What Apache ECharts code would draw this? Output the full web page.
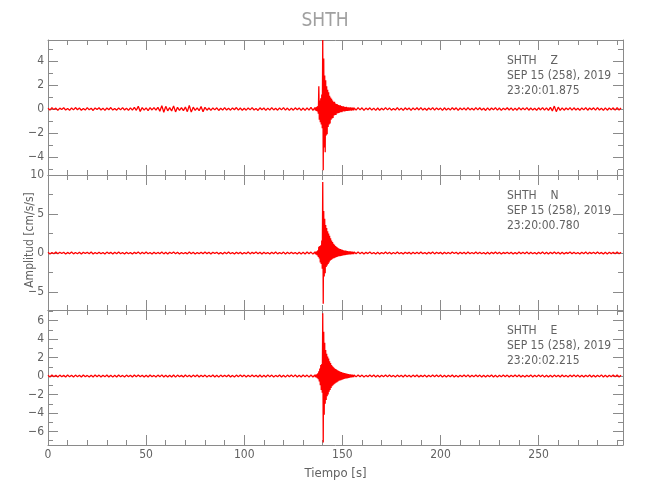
<!DOCTYPE html>
<html>
<head>
<meta charset="utf-8">
<script src="https://cdn.jsdelivr.net/npm/echarts@6/dist/echarts.min.js"></script>
<style>html,body{margin:0;padding:0;background:#fff}#c{width:650px;height:500px}</style>
</head>
<body>
<div id="c"></div>
<script>
// ---- Data ----
const title = 'SHTH';
const xName = 'Tiempo [s]';
const yName = 'Amplitud [cm/s/s]';
const xTicksMajor = [0, 50, 100, 150, 200, 250];
const xTicksMinor = [10,20,30,40,60,70,80,90,110,120,130,140,160,170,180,190,210,220,230,240,260,270,280,290];
const xRange = [0, 293];

// sample segments: pre 0..136 every 1 s, event 136.25..156 every 0.25 s, post 157..292 every 1 s
const preStart = 0, preStep = 1;
const evStart = 136.25, evStep = 0.25;
const postStart = 157, postStep = 1;

const zPre = [
 0.06,-0.09,0.11,-0.05,0.08,-0.12,0.07,-0.04,0.10,-0.08,
 0.05,-0.11,0.09,-0.07,0.12,-0.06,0.08,-0.10,0.04,-0.09,
 0.11,-0.07,0.06,-0.12,0.09,-0.05,0.10,-0.08,0.07,-0.11,
 0.08,-0.06,0.12,-0.09,0.05,-0.10,0.09,-0.07,0.11,-0.08,
 0.07,-0.12,0.10,-0.09,0.13,-0.11,0.22,-0.20,0.12,-0.10,
 0.09,-0.13,0.11,-0.08,0.12,-0.10,0.14,-0.18,0.28,-0.27,
 0.22,-0.15,0.12,-0.17,0.26,-0.24,0.14,-0.11,0.12,-0.14,
 0.16,-0.22,0.30,-0.26,0.15,-0.12,0.10,-0.14,0.20,-0.22,
 0.14,-0.10,0.08,-0.11,0.09,-0.07,0.10,-0.12,0.06,-0.09,
 0.11,-0.08,0.07,-0.10,0.09,-0.06,0.12,-0.09,0.08,-0.11,
 0.06,-0.10,0.09,-0.07,0.11,-0.08,0.05,-0.12,0.10,-0.06,
 0.08,-0.11,0.07,-0.09,0.12,-0.08,0.06,-0.10,0.09,-0.07,
 0.11,-0.09,0.08,-0.12,0.07,-0.10,0.10,-0.06,0.09,-0.11,
 0.08,-0.12,0.10,-0.09,0.13,-0.11,0.12];
const zEvent = [
 -0.12,0.14,-0.15,0.18,-0.20,0.25,-0.40,1.90,
 -0.90,0.70,-1.10,0.90,-1.30,1.20,-1.60,5.75,
 -5.10,4.20,-3.20,2.80,-3.60,2.40,-2.20,1.90,
 -2.10,1.60,-1.50,1.40,-1.30,1.10,-1.20,0.95,
 -0.90,0.85,-0.80,0.70,-0.75,0.60,-0.55,0.60,
 -0.50,0.45,-0.50,0.42,-0.38,0.40,-0.35,0.32,
 -0.34,0.30,-0.28,0.30,-0.25,0.24,-0.26,0.22,
 -0.20,0.22,-0.19,0.18,-0.20,0.17,-0.16,0.18,
 -0.15,0.14,-0.16,0.13,-0.14,0.12,-0.13,0.14,
 -0.12,0.11,-0.13,0.12,-0.10,0.12,-0.11,0.10];
const zPost = [
 -0.09,0.11,-0.07,0.10,-0.12,0.08,-0.06,0.10,-0.09,0.07,
 -0.11,0.08,-0.10,0.06,-0.08,0.12,-0.07,0.09,-0.10,0.05,
 -0.08,0.11,-0.09,0.07,-0.12,0.10,-0.06,0.08,-0.11,0.09,
 -0.07,0.10,-0.08,0.12,-0.09,0.06,-0.10,0.08,-0.07,0.11,
 -0.10,0.09,-0.06,0.08,-0.12,0.10,-0.08,0.07,-0.09,0.11,
 -0.06,0.10,-0.11,0.08,-0.07,0.09,-0.10,0.12,-0.08,0.06,
 -0.09,0.11,-0.07,0.10,-0.08,0.06,-0.12,0.09,-0.10,0.08,
 -0.07,0.12,-0.09,0.08,-0.11,0.07,-0.06,0.10,-0.08,0.09,
 -0.11,0.07,-0.10,0.12,-0.08,0.09,-0.07,0.11,-0.10,0.08,
 -0.09,0.06,-0.11,0.10,-0.08,0.12,-0.10,0.09,-0.12,0.14,
 -0.16,0.24,-0.22,0.15,-0.12,0.09,-0.10,0.08,-0.07,0.11,
 -0.09,0.10,-0.08,0.06,-0.11,0.09,-0.07,0.12,-0.10,0.08,
 -0.06,0.10,-0.09,0.11,-0.08,0.07,-0.12,0.09,-0.10,0.08,
 -0.07,0.10,-0.09,0.11,-0.08,0.09];

const nPre = [
 0.09,-0.12,0.07,-0.10,0.13,-0.08,0.11,-0.06,0.10,-0.12,
 0.08,-0.09,0.12,-0.11,0.06,-0.10,0.09,-0.13,0.11,-0.07,
 0.10,-0.08,0.13,-0.12,0.07,-0.09,0.11,-0.10,0.08,-0.13,
 0.12,-0.07,0.09,-0.11,0.10,-0.08,0.13,-0.09,0.07,-0.12,
 0.11,-0.10,0.08,-0.13,0.09,-0.07,0.12,-0.11,0.10,-0.08,
 0.13,-0.09,0.07,-0.12,0.11,-0.10,0.08,-0.09,0.12,-0.11,
 0.09,-0.13,0.10,-0.07,0.12,-0.08,0.11,-0.12,0.07,-0.10,
 0.08,-0.11,0.13,-0.09,0.10,-0.12,0.07,-0.08,0.11,-0.10,
 0.12,-0.08,0.09,-0.13,0.11,-0.07,0.10,-0.11,0.08,-0.12,
 0.10,-0.09,0.12,-0.10,0.07,-0.13,0.09,-0.08,0.11,-0.12,
 0.08,-0.10,0.13,-0.11,0.09,-0.07,0.12,-0.09,0.10,-0.13,
 0.11,-0.08,0.07,-0.12,0.10,-0.09,0.13,-0.11,0.08,-0.10,
 0.12,-0.13,0.09,-0.10,0.11,-0.08,0.07,-0.12,0.10,-0.11,
 0.09,-0.12,0.13,-0.10,0.12,-0.14,0.15];
const nEvent = [
 -0.15,0.18,-0.20,0.22,-0.30,0.35,-0.50,0.80,
 -0.70,0.90,-1.20,1.00,-1.40,1.60,-2.00,9.10,
 -6.50,5.40,-3.00,4.40,-2.60,3.60,-1.80,3.20,
 -1.60,2.80,-1.40,2.50,-1.20,2.20,-1.00,1.90,
 -0.90,1.60,-0.80,1.40,-0.70,1.20,-0.65,1.05,
 -0.60,0.90,-0.55,0.80,-0.50,0.70,-0.45,0.60,
 -0.42,0.55,-0.40,0.50,-0.36,0.45,-0.33,0.40,
 -0.30,0.36,-0.28,0.33,-0.26,0.30,-0.24,0.27,
 -0.22,0.25,-0.20,0.23,-0.19,0.21,-0.18,0.20,
 -0.16,0.18,-0.15,0.17,-0.14,0.16,-0.13,0.14];
const nPost = [
 -0.10,0.12,-0.08,0.11,-0.13,0.09,-0.07,0.12,-0.10,0.08,
 -0.12,0.09,-0.11,0.07,-0.09,0.13,-0.08,0.10,-0.11,0.06,
 -0.09,0.12,-0.10,0.08,-0.13,0.11,-0.07,0.09,-0.12,0.10,
 -0.08,0.11,-0.09,0.13,-0.10,0.07,-0.11,0.09,-0.08,0.12,
 -0.11,0.10,-0.07,0.09,-0.13,0.11,-0.09,0.08,-0.10,0.12,
 -0.07,0.11,-0.12,0.09,-0.08,0.10,-0.11,0.13,-0.09,0.07,
 -0.10,0.12,-0.08,0.11,-0.09,0.07,-0.13,0.10,-0.11,0.09,
 -0.08,0.13,-0.10,0.09,-0.12,0.08,-0.07,0.11,-0.09,0.10,
 -0.12,0.08,-0.11,0.13,-0.09,0.10,-0.08,0.12,-0.11,0.09,
 -0.10,0.07,-0.12,0.11,-0.09,0.13,-0.11,0.10,-0.12,0.09,
 -0.08,0.12,-0.10,0.09,-0.13,0.10,-0.11,0.08,-0.07,0.12,
 -0.10,0.11,-0.09,0.07,-0.12,0.10,-0.08,0.13,-0.11,0.09,
 -0.07,0.11,-0.10,0.12,-0.09,0.08,-0.13,0.10,-0.11,0.09,
 -0.08,0.11,-0.10,0.12,-0.09,0.10];

const ePre = [
 0.08,-0.10,0.11,-0.07,0.09,-0.11,0.10,-0.08,0.07,-0.10,
 0.11,-0.09,0.08,-0.11,0.10,-0.07,0.09,-0.10,0.11,-0.08,
 0.07,-0.11,0.09,-0.10,0.12,-0.08,0.10,-0.11,0.08,-0.09,
 0.11,-0.10,0.09,-0.12,0.08,-0.10,0.11,-0.09,0.07,-0.11,
 0.10,-0.08,0.09,-0.11,0.11,-0.07,0.10,-0.09,0.08,-0.11,
 0.09,-0.10,0.11,-0.08,0.07,-0.11,0.10,-0.09,0.12,-0.10,
 0.08,-0.11,0.09,-0.10,0.11,-0.12,0.10,-0.08,0.07,-0.10,
 0.11,-0.09,0.08,-0.11,0.10,-0.07,0.12,-0.10,0.09,-0.08,
 0.10,-0.11,0.07,-0.09,0.11,-0.10,0.08,-0.12,0.10,-0.09,
 0.09,-0.08,0.11,-0.10,0.07,-0.11,0.10,-0.09,0.12,-0.08,
 0.10,-0.11,0.08,-0.09,0.11,-0.07,0.09,-0.10,0.11,-0.12,
 0.08,-0.10,0.12,-0.09,0.10,-0.11,0.07,-0.08,0.11,-0.10,
 0.09,-0.12,0.10,-0.08,0.11,-0.09,0.12,-0.11,0.08,-0.10,
 0.11,-0.09,0.10,-0.12,0.11,-0.10,0.12];
const eEvent = [
 -0.12,0.14,-0.16,0.18,-0.22,0.30,-0.35,0.50,
 -0.60,0.80,-1.00,1.20,-1.50,1.30,-1.80,6.80,
 -7.20,4.80,-4.20,3.60,-3.00,2.80,-2.60,2.40,
 -2.20,2.10,-2.00,1.90,-1.70,1.60,-1.50,1.40,
 -1.30,1.20,-1.10,1.05,-1.00,0.95,-0.90,0.85,
 -0.80,0.75,-0.72,0.70,-0.66,0.62,-0.60,0.56,
 -0.52,0.50,-0.48,0.45,-0.44,0.42,-0.40,0.38,
 -0.36,0.34,-0.33,0.32,-0.30,0.28,-0.27,0.26,
 -0.25,0.24,-0.22,0.21,-0.20,0.19,-0.18,0.17,
 -0.16,0.15,-0.15,0.14,-0.13,0.13,-0.12,0.12];
const ePost = [
 -0.09,0.11,-0.08,0.10,-0.11,0.07,-0.09,0.10,-0.08,0.11,
 -0.10,0.08,-0.11,0.09,-0.07,0.10,-0.09,0.11,-0.08,0.07,
 -0.11,0.10,-0.08,0.09,-0.10,0.12,-0.07,0.09,-0.11,0.10,
 -0.08,0.11,-0.10,0.07,-0.09,0.10,-0.11,0.08,-0.09,0.11,
 -0.07,0.10,-0.09,0.11,-0.12,0.08,-0.10,0.09,-0.08,0.11,
 -0.10,0.07,-0.11,0.09,-0.08,0.10,-0.09,0.12,-0.10,0.08,
 -0.09,0.11,-0.07,0.10,-0.11,0.08,-0.10,0.09,-0.08,0.11,
 -0.10,0.09,-0.12,0.08,-0.09,0.11,-0.07,0.10,-0.11,0.09,
 -0.08,0.10,-0.09,0.11,-0.10,0.07,-0.11,0.09,-0.08,0.12,
 -0.10,0.08,-0.09,0.11,-0.07,0.10,-0.12,0.09,-0.10,0.08,
 -0.11,0.10,-0.08,0.09,-0.10,0.11,-0.09,0.07,-0.11,0.10,
 -0.08,0.12,-0.09,0.10,-0.11,0.08,-0.10,0.09,-0.07,0.11,
 -0.10,0.09,-0.11,0.08,-0.09,0.12,-0.10,0.08,-0.11,0.09,
 -0.08,0.10,-0.09,0.11,-0.10,0.09];

const panelComponents = ['Z', 'N', 'E'];
const panelDates = ['SEP 15 (258), 2019', 'SEP 15 (258), 2019', 'SEP 15 (258), 2019'];
const panelTimes = ['23:20:01.875', '23:20:00.780', '23:20:02.215'];
const yRanges = [[-5.5, 5.75], [-7.3, 10], [-7.46, 7.14]];
const yMajors = [[-4, -2, 0, 2, 4], [-5, 0, 5, 10], [-6, -4, -2, 0, 2, 4, 6]];
const yMinors = [[-5, -3, -1, 1, 3, 5], [-2.5, 2.5, 7.5], [-7, -5, -3, -1, 1, 3, 5, 7]];
const traces = [[zPre, zEvent, zPost], [nPre, nEvent, nPost], [ePre, eEvent, ePost]];

// ---- Rendering tweak: let the line path keep every sample (no sub-2px segment skipping) ----
(function () {
  try {
    const pathProto = Object.getPrototypeOf(echarts.graphic.Polyline.prototype);
    Object.defineProperty(pathProto, 'segmentIgnoreThreshold', {
      configurable: true,
      get: function () { return 0; },
      set: function () {}
    });
  } catch (e) {}
})();

// ---- Build chart ----
function toPairs(seg) {
  const out = [];
  seg[0].forEach((v, i) => out.push([preStart + i * preStep, v]));
  seg[1].forEach((v, i) => out.push([evStart + i * evStep, v]));
  seg[2].forEach((v, i) => out.push([postStart + i * postStep, v]));
  return out;
}

const axisColor = '#8a8a8a';
const textColor = '#626262';
const font = "'Liberation Sans Narrow', 'DejaVu Sans Condensed', 'Liberation Sans', sans-serif";
const gridTops = [40, 175, 310];
const gridH = 135;

const grids = [], xAxes = [], yAxes = [], series = [], graphics = [];
const minusFmt = v => String(v).replace('-', '\u2212');

gridTops.forEach((top, gi) => {
  grids.push({ left: 48, right: 27, top: top, height: gridH, containLabel: false });
  const xBase = xAxes.length;
  const mkX = (pos, ticks, len, line, labels) => ({
    gridIndex: gi, type: 'value', position: pos, min: xRange[0], max: xRange[1],
    axisLine: { show: line, onZero: false, lineStyle: { color: axisColor, width: 1 } },
    axisTick: { show: true, inside: true, length: len, customValues: ticks, lineStyle: { color: axisColor } },
    axisLabel: labels ? { show: true, customValues: ticks, color: textColor, fontFamily: font, fontSize: 12, margin: 4 } : { show: false },
    splitLine: { show: false }
  });
  xAxes.push(mkX('bottom', xTicksMajor, 10, true, gi === 2));
  xAxes.push(mkX('bottom', xTicksMinor, 5, false, false));
  xAxes.push(mkX('top', xTicksMajor, 10, true, false));
  xAxes.push(mkX('top', xTicksMinor, 5, false, false));
  if (gi === 2) {
    xAxes[xBase].name = xName;
    xAxes[xBase].nameLocation = 'middle';
    xAxes[xBase].nameGap = 22;
    xAxes[xBase].nameTextStyle = { color: textColor, fontFamily: font, fontSize: 13 };
  }
  const yBase = yAxes.length;
  const mkY = (pos, ticks, len, line, labels) => ({
    gridIndex: gi, type: 'value', position: pos, min: yRanges[gi][0], max: yRanges[gi][1],
    axisLine: { show: line, onZero: false, lineStyle: { color: axisColor, width: 1 } },
    axisTick: { show: true, inside: true, length: len, customValues: ticks, lineStyle: { color: axisColor } },
    axisLabel: labels ? { show: true, customValues: ticks, formatter: minusFmt, color: textColor, fontFamily: font, fontSize: 12, margin: 4 } : { show: false },
    splitLine: { show: false }
  });
  yAxes.push(mkY('left', yMajors[gi], 10, true, true));
  yAxes.push(mkY('left', yMinors[gi], 5, false, false));
  yAxes.push(mkY('right', yMajors[gi], 10, true, false));
  yAxes.push(mkY('right', yMinors[gi], 5, false, false));

  series.push({
    type: 'line', xAxisIndex: xBase, yAxisIndex: yBase,
    data: toPairs(traces[gi]), showSymbol: false, symbol: 'none', clip: false,
    lineStyle: { color: '#ff0000', width: 1.3 }, animation: false, silent: true
  });

  const lines = ['SHTH    ' + panelComponents[gi], panelDates[gi], panelTimes[gi]];
  lines.forEach((t, li) => {
    graphics.push({
      type: 'text', left: 507, top: top + 15 + li * 15,
      style: { text: t, fill: textColor, font: '12px ' + font }
    });
  });
});

graphics.push({
  type: 'text', left: 'center', top: 12,
  style: { text: title, fill: '#a0a0a0', font: '19px ' + font }
});
graphics.push({
  type: 'text', x: 30, y: 240, rotation: Math.PI / 2,
  style: { text: yName, fill: textColor, font: '12px ' + font, align: 'center', verticalAlign: 'middle' }
});

const chart = echarts.init(document.getElementById('c'), null, { renderer: 'canvas' });
chart.setOption({
  animation: false,
  backgroundColor: '#ffffff',
  grid: grids,
  xAxis: xAxes,
  yAxis: yAxes,
  series: series,
  graphic: graphics
});
</script>
</body>
</html>
